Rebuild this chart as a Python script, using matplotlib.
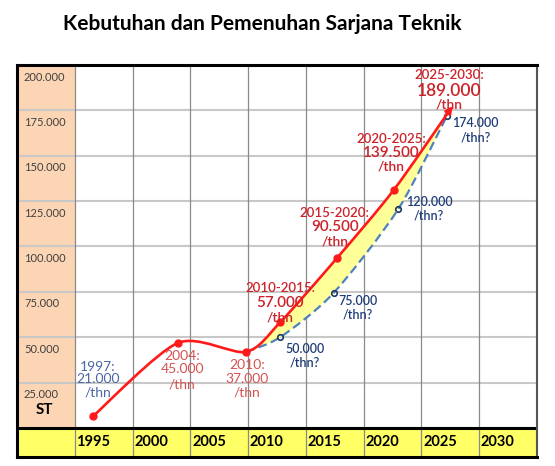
import numpy as np
import matplotlib
matplotlib.use("Agg")
import matplotlib.pyplot as plt
from matplotlib.path import Path
from matplotlib.patches import PathPatch, Rectangle, FancyArrowPatch

plt.rcParams['font.family'] = ['Lato', 'DejaVu Sans']

# ---------------- data ----------------
year_ticks = [1995, 2000, 2005, 2010, 2015, 2020, 2025, 2030]
y_ticks = [200000, 175000, 150000, 125000, 100000, 75000, 50000, 25000]
y_tick_labels = ["200.000", "175.000", "150.000", "125.000", "100.000", "75.000", "50.000", "25.000"]

# demand curve (red), as drawn
red_years = [1996.6, 2003.9, 2009.8, 2012.8, 2017.7, 2022.6, 2027.7]
red_vals = [6600, 46800, 41900, 58400, 93700, 131100, 177400]

# supply curve (blue dashed), as drawn
blue_years = [2009.8, 2012.8, 2017.4, 2023.0, 2027.2]
blue_vals = [41900, 50100, 74400, 120700, 171900]

title = "Kebutuhan dan Pemenuhan Sarjana Teknik"


def smooth_path(xs, ys, s=0.8, start=0):
    pts = np.column_stack([xs, ys]).astype(float)
    n = len(pts)
    verts = [pts[start]]
    codes = [Path.MOVETO]
    for i in range(start, n - 1):
        p0 = pts[i - 1] if i > 0 else pts[i]
        p1 = pts[i]
        p2 = pts[i + 1]
        p3 = pts[i + 2] if i + 2 < n else pts[i + 1]
        c1 = p1 + s * (p2 - p0) / 6.0
        c2 = p2 - s * (p3 - p1) / 6.0
        verts += [c1, c2, p2]
        codes += [Path.CURVE4] * 3
    return np.array(verts), codes


fig = plt.figure(figsize=(5.55, 4.66), dpi=100)
ax = fig.add_axes([17 / 555, 1 - 457 / 466, 520 / 555, 392 / 466])
ax.set_xlim(1990, 2035)
ax.set_ylim(-16000, 200000)
ax.set_xticks([])
ax.set_yticks([])

# backgrounds
ax.add_patch(Rectangle((1990, 0), 5, 200000, facecolor='#fcd5b4', edgecolor='none', zorder=0))
ax.add_patch(Rectangle((1990, -16000), 45, 16000, facecolor='#ffff66', edgecolor='none', zorder=0))

# grid
for yv in y_ticks[1:]:
    ax.axhline(yv, color='#c8c8c8', lw=1.5, zorder=1)
for xv in year_ticks:
    ax.axvline(xv, color='#8a8a8a', lw=0.9, zorder=1)
ax.axhline(0, color='black', lw=2.2, zorder=2)

for side in ['left', 'top', 'bottom']:
    ax.spines[side].set_linewidth(2.2)
    ax.spines[side].set_color('black')
ax.spines['right'].set_linewidth(1.5)
ax.spines['right'].set_color('#555555')

# tick labels
for yv, lab in zip(y_ticks, y_tick_labels):
    ax.text(1990.6, yv - 3600, lab, ha='left', va='top', fontsize=8, color='#404040', zorder=5)
ax.text(1992.4, 9800, "ST", ha='center', va='center', fontsize=11, fontweight='bold', color='black', zorder=5)
for xv in year_ticks:
    ax.text(xv + 0.15, -8000, str(xv), ha='left', va='center', fontsize=10.5, fontweight='bold', color='black', zorder=5)

# fill between curves
rv, rc = smooth_path(red_years, red_vals, start=2)
bv, bc = smooth_path(blue_years, blue_vals)
fill_verts = np.vstack([rv, bv[::-1], rv[:1]])
fill_codes = list(rc) + [Path.LINETO] + [Path.CURVE4] * (len(bv) - 1) + [Path.CLOSEPOLY]
ax.add_patch(PathPatch(Path(fill_verts, fill_codes), facecolor='#ffff99', edgecolor='none', zorder=2))

# blue dashed curve
bpath = Path(bv, bc)
ax.add_patch(PathPatch(bpath, facecolor='none', edgecolor='#4f81bd', lw=1.6,
                       linestyle=(0, (4, 2)), zorder=3))
ax.plot(blue_years[1:], blue_vals[1:], 'o', ms=4, mfc='none', mec='#1f3864', mew=1.2, zorder=4)

# red curve with arrow
fv, fc = smooth_path(red_years, red_vals)
arrow = FancyArrowPatch(path=Path(fv, fc), arrowstyle='-|>', mutation_scale=10,
                        color='#ff1a1a', lw=1.9, zorder=4)
ax.add_patch(arrow)
ax.plot(red_years[:-1], red_vals[:-1], 'o', ms=5, color='#ff1a1a', zorder=4)

# annotations
old_blue = '#4a66a4'
old_red = '#d65252'
red_c = '#cc2229'
navy = '#1f3d7a'

def lines(x, specs, color, weight='normal'):
    for txt, yv, fs in specs:
        ax.text(x, yv, txt, ha='center', va='center', fontsize=fs, color=color,
                fontweight=weight, zorder=6)

lines(1997.0, [("1997:", 33600, 10), ("21.000", 27000, 10), ("/thn", 19300, 10)], old_blue)
lines(2004.3, [("2004:", 39700, 10), ("45.000", 32500, 10), ("/thn", 24200, 10)], old_red)
lines(2009.9, [("2010:", 34700, 10), ("37.000", 27000, 10), ("/thn", 19300, 10)], old_red)

lines(2012.8, [("2010-2015:", 77100, 9.5), ("57.000", 68900, 11), ("/thn", 60600, 10)], red_c, 'semibold')
lines(2017.5, [("2015-2020:", 118500, 9.5), ("90.500", 110800, 11), ("/thn", 102500, 10)], red_c, 'semibold')
lines(2022.4, [("2020-2025:", 159200, 9.5), ("139.500", 151500, 11), ("/thn", 143800, 10)], red_c, 'semibold')
lines(2027.4, [("2025-2030:", 194500, 9.5), ("189.000", 185700, 12.5), ("/thn", 178000, 10)], red_c, 'semibold')

lines(2029.7, [("174.000", 168100, 9), ("/thn?", 160300, 9)], navy, 'semibold')
lines(2025.65, [("120.000", 124500, 9), ("/thn?", 116800, 9)], navy, 'semibold')
lines(2019.5, [("75.000", 70000, 9), ("/thn?", 62300, 9)], navy, 'semibold')
lines(2014.9, [("50.000", 43500, 9), ("/thn?", 35800, 9)], navy, 'semibold')

fig.text(262 / 555, 1 - 24 / 466, title, ha='center', va='center', fontsize=15,
         fontweight='bold', color='black')

fig.savefig('out.png', dpi=100)
